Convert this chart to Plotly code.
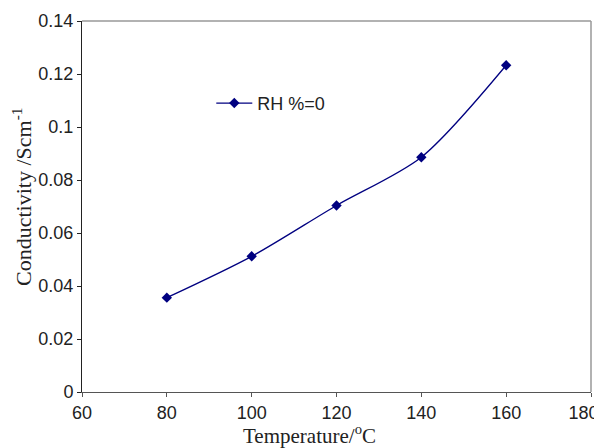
import plotly.graph_objects as go

temperature = [80, 100, 120, 140, 160]
conductivity = [0.0356, 0.0512, 0.0704, 0.0886, 0.1233]
series_name = "RH %=0"
x_ticks = [60, 80, 100, 120, 140, 160, 180]
x_tick_text = ["60", "80", "100", "120", "140", "160", "180\u00a0\u00a0\u00a0"]
y_ticks = [0, 0.02, 0.04, 0.06, 0.08, 0.1, 0.12, 0.14]
y_tick_text = ["0", "0.02", "0.04", "0.06", "0.08", "0.1", "0.12", "0.14"]
x_title = "Temperature/<sup>o</sup>C"
y_title = "Conductivity /Scm<sup>-1</sup>"

SANS = "Liberation Sans, Arial"
SERIF = "Liberation Serif, Times New Roman"

# the page body has an 8px margin, so the figure is 8px smaller
fig = go.Figure()
fig.add_trace(go.Scatter(
    x=temperature, y=conductivity, name=series_name,
    mode="lines+markers",
    line=dict(color="#000080", width=1.3, shape="spline", smoothing=0.8),
    marker=dict(symbol="diamond", size=8, color="#000080"),
))

fig.update_layout(
    width=594, height=440,
    margin=dict(l=74, r=11, t=13, b=56),
    paper_bgcolor="white", plot_bgcolor="white",
    showlegend=True,
    legend=dict(x=0.254, y=0.778, xanchor="left", yanchor="middle",
                bgcolor="rgba(0,0,0,0)", itemwidth=36,
                font=dict(family=SANS, size=18, color="#222")),
    font=dict(family=SANS, size=18, color="#222"),
)

fig.update_xaxes(
    range=[60, 180], tickvals=x_ticks, ticktext=x_tick_text,
    showgrid=False, zeroline=False, automargin=False,
    showline=True, linecolor="#555", linewidth=1, mirror=False,
    ticks="outside", ticklen=4, tickcolor="#555",
    ticklabeloverflow="allow",
    tickfont=dict(family=SANS, size=18, color="#222"),
)
fig.update_yaxes(
    range=[0, 0.14], tickvals=y_ticks, ticktext=y_tick_text,
    showgrid=False, zeroline=False, automargin=False,
    showline=True, linecolor="#222", linewidth=1, mirror=False,
    ticks="outside", ticklen=4, tickcolor="#222",
    ticklabeloverflow="allow",
    tickfont=dict(family=SANS, size=18, color="#222"),
)

# axis titles as annotations (offset from the plot centre as in the reference)
fig.add_annotation(text=x_title, xref="paper", yref="paper",
                   x=0.446, y=-0.114, xanchor="center", yanchor="middle",
                   showarrow=False,
                   font=dict(family=SERIF, size=21, color="#222"))
fig.add_annotation(text=y_title, xref="paper", yref="paper",
                   x=-0.117, y=0.527, xanchor="center", yanchor="middle",
                   textangle=-90, showarrow=False,
                   font=dict(family=SERIF, size=22, color="#222"))

# gray top and right frame lines
fig.add_shape(type="line", xref="paper", yref="paper", x0=0, x1=1, y0=1, y1=1,
              line=dict(color="#999", width=1.5))
fig.add_shape(type="line", xref="paper", yref="paper", x0=1, x1=1, y0=0, y1=1,
              line=dict(color="#999", width=1.5))

fig.write_html("out.html")
